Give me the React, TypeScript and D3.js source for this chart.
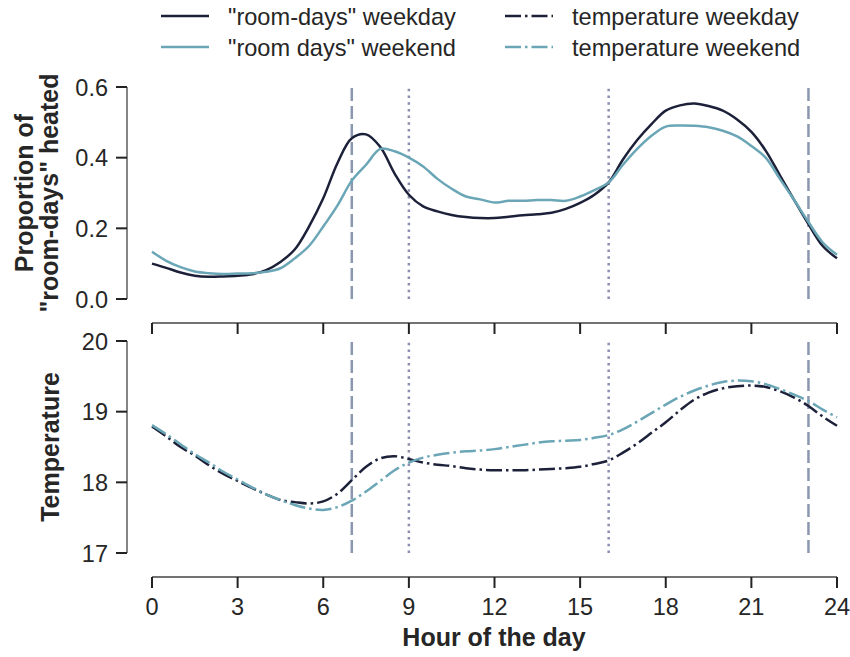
import React from "react";
import * as d3 from "d3";

const hours = d3.range(0, 24.01, 0.5);

const roomWeekday = [0.100,0.088,0.075,0.066,0.063,0.064,0.066,0.070,0.082,0.105,0.140,0.205,0.285,0.385,0.455,0.466,0.430,0.355,0.295,0.262,0.248,0.238,0.232,0.229,0.229,0.233,0.237,0.240,0.244,0.255,0.272,0.295,0.330,0.395,0.450,0.495,0.533,0.548,0.553,0.546,0.533,0.508,0.473,0.420,0.350,0.280,0.212,0.150,0.115];
const roomWeekend = [0.134,0.108,0.090,0.078,0.073,0.071,0.072,0.073,0.077,0.087,0.115,0.150,0.205,0.265,0.335,0.380,0.425,0.418,0.400,0.375,0.340,0.312,0.290,0.282,0.273,0.278,0.278,0.280,0.280,0.278,0.290,0.308,0.330,0.380,0.425,0.462,0.488,0.491,0.490,0.486,0.476,0.460,0.433,0.400,0.340,0.280,0.218,0.160,0.125];
const tempWeekday = [18.79,18.65,18.50,18.38,18.24,18.12,18.02,17.92,17.83,17.75,17.72,17.70,17.73,17.84,18.03,18.22,18.34,18.37,18.33,18.28,18.25,18.23,18.20,18.18,18.17,18.17,18.17,18.18,18.19,18.20,18.22,18.26,18.31,18.42,18.55,18.70,18.85,19.02,19.17,19.27,19.33,19.36,19.37,19.35,19.29,19.20,19.08,18.93,18.80];
const tempWeekend = [18.81,18.68,18.54,18.40,18.28,18.15,18.04,17.93,17.83,17.75,17.68,17.63,17.61,17.65,17.74,17.87,18.02,18.17,18.28,18.35,18.39,18.42,18.44,18.45,18.47,18.50,18.53,18.56,18.58,18.59,18.60,18.63,18.67,18.75,18.86,18.98,19.10,19.21,19.30,19.37,19.42,19.44,19.43,19.39,19.32,19.24,19.15,19.03,18.92];

const xTicks = [0, 3, 6, 9, 12, 15, 18, 21, 24];
const topTicks = [0.0, 0.2, 0.4, 0.6];
const bottomTicks = [17, 18, 19, 20];
const dashedHours = [7, 23];
const dottedHours = [9, 16];
const legendLabels = ['"room-days" weekday', '"room days" weekend', "temperature weekday", "temperature weekend"];

const NAVY = "#1c2139";
const TEAL = "#6aa6b6";
const DASH_C = "#8a97ae";
const DOT_C = "#8c8eb0";
const TXT = "#262626";
const FONT = "'Liberation Sans', Arial, sans-serif";

export default function App() {
  const x = d3.scaleLinear().domain([0, 24]).range([152, 837]);
  const yTop = d3.scaleLinear().domain([0, 0.6]).range([299, 87]);
  const yBot = d3.scaleLinear().domain([17, 20]).range([553, 341]);
  const lineTop = d3.line<number>().x((_, i) => x(hours[i])).y((d) => yTop(d)).curve(d3.curveCatmullRom);
  const lineBot = d3.line<number>().x((_, i) => x(hours[i])).y((d) => yBot(d)).curve(d3.curveCatmullRom);
  const axisX = (y0: number, labels: boolean) => (
    <g>
      <line x1={x(0)} x2={x(24)} y1={y0} y2={y0} stroke="#444" strokeWidth={1.3} />
      {xTicks.map((t) => (
        <g key={t}>
          <line x1={x(t)} x2={x(t)} y1={y0} y2={y0 + 11} stroke="#222" strokeWidth={2} />
          {labels && (
            <text x={x(t)} y={y0 + 38} textAnchor="middle" fontSize={23.5} fill={TXT}>{t}</text>
          )}
        </g>
      ))}
    </g>
  );
  const axisY = (scale: any, ticks: number[], fmt: (v: number) => string) => {
    const [r0, r1] = scale.range();
    return (
      <g>
        <line x1={127} x2={127} y1={r0} y2={r1} stroke="#444" strokeWidth={1.3} />
        {ticks.map((t) => (
          <g key={t}>
            <line x1={116} x2={127} y1={scale(t)} y2={scale(t)} stroke="#222" strokeWidth={2} />
            <text x={108} y={scale(t) + 8.5} textAnchor="end" fontSize={23.5} fill={TXT}>{fmt(t)}</text>
          </g>
        ))}
      </g>
    );
  };
  const vlines = (scale: any) => {
    const [r0, r1] = scale.range();
    return (
      <g>
        {dashedHours.map((h) => (
          <line key={"d" + h} x1={x(h)} x2={x(h)} y1={r0} y2={r1} stroke={DASH_C} strokeWidth={2.5} strokeDasharray="13,5" />
        ))}
        {dottedHours.map((h) => (
          <line key={"o" + h} x1={x(h)} x2={x(h)} y1={r0} y2={r1} stroke={DOT_C} strokeWidth={2.5} strokeDasharray="2.5,4.2" />
        ))}
      </g>
    );
  };
  const legendItems = [
    { label: legendLabels[0], color: NAVY, dash: undefined, x0: 161, y0: 16 },
    { label: legendLabels[1], color: TEAL, dash: undefined, x0: 161, y0: 47 },
    { label: legendLabels[2], color: NAVY, dash: "16,4,2.5,4", x0: 505, y0: 16 },
    { label: legendLabels[3], color: TEAL, dash: "16,4,2.5,4", x0: 505, y0: 47 },
  ];
  return (
    <svg width={850} height={657} style={{ display: "block", position: "absolute", left: 0, top: 0 }} fontFamily={FONT}>
      <rect width={850} height={657} fill="#fff" />
      {legendItems.map((it, i) => (
        <g key={i}>
          <line x1={it.x0} x2={it.x0 + 48} y1={it.y0} y2={it.y0} stroke={it.color} strokeWidth={2.5} strokeDasharray={it.dash} />
          <text x={it.x0 + 67} y={it.y0 + 8.5} fontSize={23.6} fill={TXT}>{it.label}</text>
        </g>
      ))}
      {vlines(yTop)}
      <path d={lineTop(roomWeekday) || ""} fill="none" stroke={NAVY} strokeWidth={2.5} />
      <path d={lineTop(roomWeekend) || ""} fill="none" stroke={TEAL} strokeWidth={2.5} />
      {axisY(yTop, topTicks, (v) => v.toFixed(1))}
      {axisX(323, false)}
      {vlines(yBot)}
      <path d={lineBot(tempWeekday) || ""} fill="none" stroke={NAVY} strokeWidth={2.5} strokeDasharray="16,4,2.5,4" />
      <path d={lineBot(tempWeekend) || ""} fill="none" stroke={TEAL} strokeWidth={2.5} strokeDasharray="16,4,2.5,4" />
      {axisY(yBot, bottomTicks, (v) => String(v))}
      {axisX(577, true)}
      <text transform="translate(33,193) rotate(-90)" textAnchor="middle" fontSize={25} fontWeight="bold" fill={TXT}>Proportion of</text>
      <text transform="translate(58,193) rotate(-90)" textAnchor="middle" fontSize={25} fontWeight="bold" fill={TXT}>"room-days" heated</text>
      <text transform="translate(59,447) rotate(-90)" textAnchor="middle" fontSize={25} fontWeight="bold" fill={TXT}>Temperature</text>
      <text x={494} y={646} textAnchor="middle" fontSize={25} fontWeight="bold" fill={TXT}>Hour of the day</text>
    </svg>
  );
}
